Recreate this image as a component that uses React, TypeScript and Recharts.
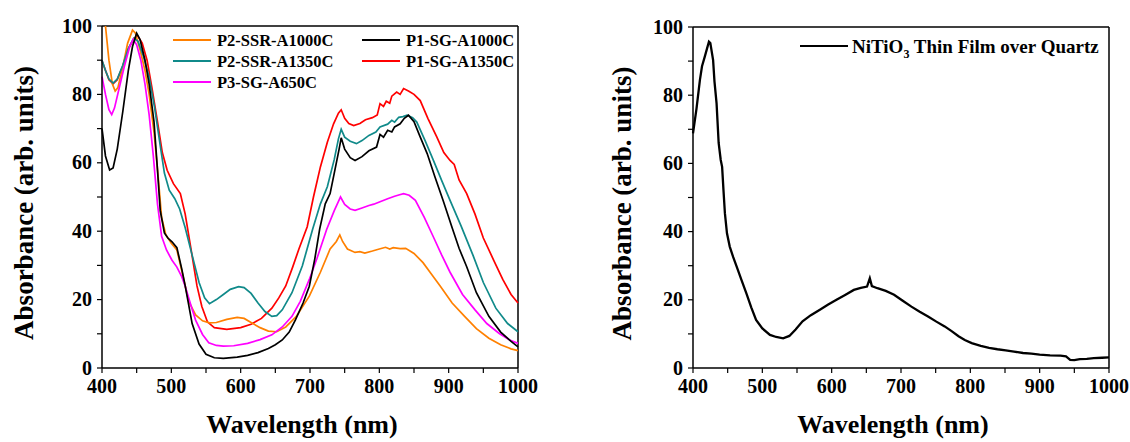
import React from 'react';
import { LineChart, Line, XAxis, YAxis, ReferenceLine, Label } from 'recharts';

// wavelength (nm) / absorbance pairs
const p2Ssr1000: [number, number][] = [
  [400, 106], [405, 100], [410, 90], [415, 83], [419, 81], [423, 82], [430, 88], [437, 95], [444, 98.8],
  [448, 98], [455, 93], [462, 87], [468, 80], [475, 69], [481, 56], [486, 44], [492, 39], [500, 36.5],
  [508, 34.5], [515, 28.5], [525, 19.5], [535, 15.5], [545, 13.8], [555, 13.2], [565, 13.3], [580, 14.2],
  [595, 14.8], [605, 14.5], [615, 13.3], [628, 11.8], [640, 10.8], [652, 10.6], [665, 12], [680, 15],
  [699, 21], [715, 28], [729, 34.8], [738, 37], [743, 38.9], [747, 37], [754, 34.8], [765, 33.8], [772, 34],
  [779, 33.6], [790, 34.2], [800, 34.8], [809, 35.3], [815, 34.8], [820, 35.2], [830, 34.9], [838, 35],
  [850, 33.5], [863, 30.8], [875, 27.5], [888, 23.9], [905, 19], [923, 15.1], [940, 11.5], [958, 8.7],
  [975, 6.8], [990, 5.6], [1000, 5.1],
];

const p2Ssr1350: [number, number][] = [
  [400, 90], [405, 87], [410, 84.5], [416, 83.3], [422, 84.5], [430, 88.5], [438, 93.5], [446, 96.4],
  [452, 95.5], [460, 91], [468, 85], [476, 76], [484, 65], [490, 57], [497, 52], [505, 49.5], [512, 46.5],
  [520, 41], [530, 33], [540, 25], [548, 20.5], [555, 18.8], [565, 20], [575, 21.5], [585, 23], [597, 23.8],
  [605, 23.5], [615, 21.8], [625, 19], [635, 16.5], [645, 15.1], [652, 15.3], [660, 17], [674, 22],
  [689, 29.9], [704, 40.7], [715, 48], [725, 53], [735, 61], [741, 67], [745, 69.8], [750, 67.5], [758, 66.3],
  [767, 65.6], [775, 66.5], [785, 68], [795, 69], [801, 70.5], [812, 71.3], [818, 72.4], [822, 71.9],
  [828, 73.3], [834, 73.5], [840, 73.9], [848, 73.2], [854, 71.9], [866, 66.5], [878, 60.7], [890, 54.8],
  [902, 49], [918, 41.5], [935, 33], [950, 25], [968, 17.5], [985, 13], [1000, 10.6],
];

const p3Sg650: [number, number][] = [
  [400, 85.2], [405, 80], [410, 75.5], [414, 74.1], [418, 76], [425, 82], [432, 88], [440, 94], [445, 96.1],
  [450, 94.5], [456, 90], [462, 83], [468, 74], [474, 62], [480, 48], [486, 38.5], [493, 34.5], [501, 31.5],
  [508, 29.5], [515, 26.7], [520, 23.9], [528, 18.5], [535, 14], [545, 9.8], [554, 7.4], [565, 6.6],
  [575, 6.4], [590, 6.5], [610, 7.2], [628, 8.3], [645, 9.7], [660, 12], [674, 15.1], [686, 19.5],
  [699, 25.9], [710, 32], [724, 40.5], [735, 46], [744, 50], [750, 47.8], [758, 46.5], [765, 46.1],
  [775, 46.8], [785, 47.5], [792, 47.9], [801, 48.6], [812, 49.5], [822, 50.2], [828, 50.6], [835, 51],
  [843, 50.5], [852, 49], [865, 44], [878, 38.3], [890, 33], [902, 28], [920, 21.5], [938, 17], [955, 13],
  [973, 10.1], [988, 8.2], [1000, 7.2],
];

const p1Sg1000: [number, number][] = [
  [400, 70], [405, 62], [411, 57.9], [416, 58.5], [422, 64], [430, 75], [438, 87], [444, 94], [450, 97.9],
  [455, 96], [462, 90], [468, 83], [475, 72], [480, 58], [484, 46], [490, 39.5], [495, 38], [501, 36.9],
  [508, 35.2], [515, 29], [520, 24], [530, 13], [540, 7], [550, 4], [562, 3], [575, 2.8], [595, 3.2],
  [610, 3.7], [625, 4.5], [640, 5.7], [650, 6.8], [660, 8.2], [670, 10.5], [679, 14.1], [690, 19], [699, 23.9],
  [707, 32], [714, 40.7], [722, 48], [729, 51], [735, 57], [742, 64], [745, 67.3], [750, 64], [758, 61.5],
  [765, 60.7], [775, 61.8], [785, 63.5], [796, 64.6], [801, 68.3], [806, 67.5], [812, 69.5], [818, 69],
  [822, 70.5], [830, 71.4], [836, 73], [842, 73.9], [850, 72], [858, 68], [869, 62.7], [880, 56], [892, 49],
  [905, 41], [915, 35], [926, 29.6], [940, 22], [958, 15.1], [975, 10.5], [990, 7.8], [1000, 6.2],
];

const p1Sg1350: [number, number][] = [
  [400, 89.8], [410, 84.3], [416, 83.1], [422, 84.3], [430, 88.3], [438, 93.3], [446, 96.3], [451, 97.2],
  [458, 95], [465, 90], [472, 82], [480, 72], [487, 63], [494, 57.8], [503, 53.9], [513, 51], [520, 45],
  [529, 34], [537, 24], [544, 18], [552, 13.5], [562, 11.8], [580, 11.3], [600, 11.8], [615, 12.8],
  [630, 14.5], [645, 17.5], [655, 20.5], [665, 24], [675, 29.5], [684, 34.8], [696, 41.3], [705, 50],
  [715, 58.8], [725, 66], [734, 71.4], [741, 74.5], [745, 75.5], [750, 73], [756, 71.5], [763, 70.9],
  [772, 71.5], [780, 72.6], [790, 73.2], [797, 74], [801, 77.3], [806, 76.5], [810, 78], [815, 77.4],
  [818, 79.5], [825, 80.7], [830, 80], [835, 81.7], [842, 81], [850, 80], [859, 78.2], [870, 73], [883, 67.5],
  [893, 63], [902, 60.7], [908, 59.5], [915, 55], [926, 51], [938, 45], [950, 38], [965, 31.5], [978, 25.9],
  [990, 21.5], [1000, 19],
];

const nitioFilm: [number, number][] = [
  [400, 68.8], [405, 76], [410, 84.5], [413, 88.5], [417, 91.3], [420, 93.5], [423, 95.7], [425, 95.3],
  [429, 90.3], [431, 84], [434, 77.6], [437, 66], [440, 61], [442, 59], [444, 52], [446, 45.4], [449, 39.5],
  [453, 35.6], [458, 32.5], [463, 29.7], [470, 25.8], [477, 21.9], [484, 17.8], [491, 14.1], [500, 11.6],
  [511, 9.7], [520, 9.1], [530, 8.7], [539, 9.4], [548, 11.3], [558, 13.7], [570, 15.5], [583, 17.1],
  [595, 18.6], [607, 20], [620, 21.5], [632, 22.9], [642, 23.5], [651, 23.9], [655, 26.3], [658, 24],
  [666, 23.4], [678, 22.6], [690, 21.5], [702, 19.8], [715, 18], [727, 16.5], [739, 15.1], [751, 13.6],
  [763, 12.2], [773, 10.8], [783, 9.3], [792, 8.2], [802, 7.3], [815, 6.5], [827, 5.9], [839, 5.5],
  [851, 5.2], [863, 4.8], [876, 4.4], [888, 4.2], [900, 3.9], [915, 3.7], [930, 3.6], [938, 3.4],
  [944, 2.4], [950, 2.3], [958, 2.6], [968, 2.7], [978, 2.9], [990, 3.0], [1000, 3.1],
];

const xTicks = [400, 450, 500, 550, 600, 650, 700, 750, 800, 850, 900, 950, 1000];
const yTicks = [0, 10, 20, 30, 40, 50, 60, 70, 80, 90, 100];

const leftSeries = [
  { name: 'P1-SG-A1350C', color: '#ff0000', points: p1Sg1350 },
  { name: 'P2-SSR-A1000C', color: '#ff8000', points: p2Ssr1000 },
  { name: 'P2-SSR-A1350C', color: '#108a8a', points: p2Ssr1350 },
  { name: 'P3-SG-A650C', color: '#ff00ff', points: p3Sg650 },
  { name: 'P1-SG-A1000C', color: '#000000', points: p1Sg1000 },
];

const rightSeries = [{ name: 'NiTiO3 Thin Film over Quartz', color: '#000000', points: nitioFilm }];

const FONT = '"Liberation Serif", "Times New Roman", serif';

const toRows = (pts: [number, number][]) => pts.map(([wl, abs]) => ({ wl, abs }));

const YTick = (props: any) => {
  const { x, y, payload } = props;
  if (payload.value % 20 !== 0) return null;
  return (
    <text x={x} y={y} dy={6.5} textAnchor="end" fontFamily={FONT} fontWeight="bold" fontSize={20} fill="#000">
      {payload.value}
    </text>
  );
};

const XTick = (props: any) => {
  const { x, y, payload } = props;
  if (payload.value % 100 !== 0) return null;
  return (
    <text x={x} y={y} dy={17} textAnchor="middle" fontFamily={FONT} fontWeight="bold" fontSize={20} fill="#000">
      {payload.value}
    </text>
  );
};

type PanelProps = {
  series: { name: string; color: string; points: [number, number][] }[];
  width: number;
  top: number;
  right: number;
  yAxisWidth: number;
  yTitleX: number;
  lineWidth: number;
};

const Panel = ({ series, width, top, right, yAxisWidth, yTitleX, lineWidth }: PanelProps) => {
  const plotLeft = yAxisWidth;
  const plotRight = width - right;
  const midY = (top + 368) / 2 + 6;
  return (
    <LineChart width={width} height={442} margin={{ top, right, bottom: 0, left: 0 }}>
      <XAxis
        dataKey="wl"
        type="number"
        domain={[400, 1000]}
        ticks={xTicks}
        interval={0}
        height={74}
        tick={XTick}
        tickSize={5}
        tickMargin={3}
        axisLine={{ stroke: '#000', strokeWidth: 1.5 }}
        tickLine={{ stroke: '#000', strokeWidth: 1.2 }}
      >
        <Label
          content={() => (
            <text
              x={(plotLeft + plotRight) / 2 - 8}
              y={433}
              textAnchor="middle"
              fontFamily={FONT}
              fontWeight="bold"
              fontSize={26}
              fill="#000"
            >
              Wavelength (nm)
            </text>
          )}
        />
      </XAxis>
      <YAxis
        type="number"
        domain={[0, 100]}
        ticks={yTicks}
        interval={0}
        allowDataOverflow
        width={yAxisWidth}
        tick={YTick}
        tickSize={5}
        tickMargin={5}
        axisLine={{ stroke: '#000', strokeWidth: 1.5 }}
        tickLine={{ stroke: '#000', strokeWidth: 1.2 }}
      >
        <Label
          content={() => (
            <text
              transform={`translate(${yTitleX},${midY}) rotate(-90)`}
              textAnchor="middle"
              dominantBaseline="central"
              fontFamily={FONT}
              fontWeight="bold"
              fontSize={27}
              fill="#000"
            >
              Absorbance (arb. units)
            </text>
          )}
        />
      </YAxis>
      <ReferenceLine y={100} stroke="#000" strokeWidth={1.5} />
      <ReferenceLine x={1000} stroke="#000" strokeWidth={1.5} />
      {series.map((s) => (
        <Line
          key={s.name}
          data={toRows(s.points)}
          dataKey="abs"
          stroke={s.color}
          strokeWidth={lineWidth}
          dot={false}
          isAnimationActive={false}
        />
      ))}
    </LineChart>
  );
};

const legendLeft = [
  { name: 'P2-SSR-A1000C', color: '#ff8000', col: 0, row: 0 },
  { name: 'P2-SSR-A1350C', color: '#108a8a', col: 0, row: 1 },
  { name: 'P3-SG-A650C', color: '#ff00ff', col: 0, row: 2 },
  { name: 'P1-SG-A1000C', color: '#000000', col: 1, row: 0 },
  { name: 'P1-SG-A1350C', color: '#ff0000', col: 1, row: 1 },
];

const Legends = () => (
  <svg width={1130} height={442} style={{ position: 'absolute', left: 0, top: 0, pointerEvents: 'none' }}>
    {legendLeft.map((item) => {
      const lx = item.col === 0 ? 173 : 362;
      const y = 40 + item.row * 21;
      return (
        <g key={item.name}>
          <line x1={lx} x2={lx + 38} y1={y} y2={y} stroke={item.color} strokeWidth={2} />
          <text x={lx + 44} y={y + 6} fontFamily={FONT} fontWeight="bold" fontSize={16.5} fill="#000">
            {item.name}
          </text>
        </g>
      );
    })}
    <line x1={800} x2={848} y1={46} y2={46} stroke="#000" strokeWidth={2} />
    <text x={852} y={52.5} fontFamily={FONT} fontWeight="bold" fontSize={19} fill="#000">
      NiTiO
      <tspan fontSize={12} dy={5}>3</tspan>
      <tspan dy={-5}> Thin Film over Quartz</tspan>
    </text>
  </svg>
);

export default function App() {
  return (
    <div style={{ position: 'absolute', left: 0, top: 0, width: 1130, height: 442, background: '#fff' }}>
      <div style={{ position: 'absolute', left: 0, top: 0 }}>
        <Panel series={leftSeries} width={560} top={26} right={42} yAxisWidth={102} yTitleX={24} lineWidth={1.7} />
      </div>
      <div style={{ position: 'absolute', left: 590, top: 0 }}>
        <Panel series={rightSeries} width={540} top={27} right={21} yAxisWidth={103} yTitleX={32} lineWidth={2.3} />
      </div>
      <Legends />
    </div>
  );
}
